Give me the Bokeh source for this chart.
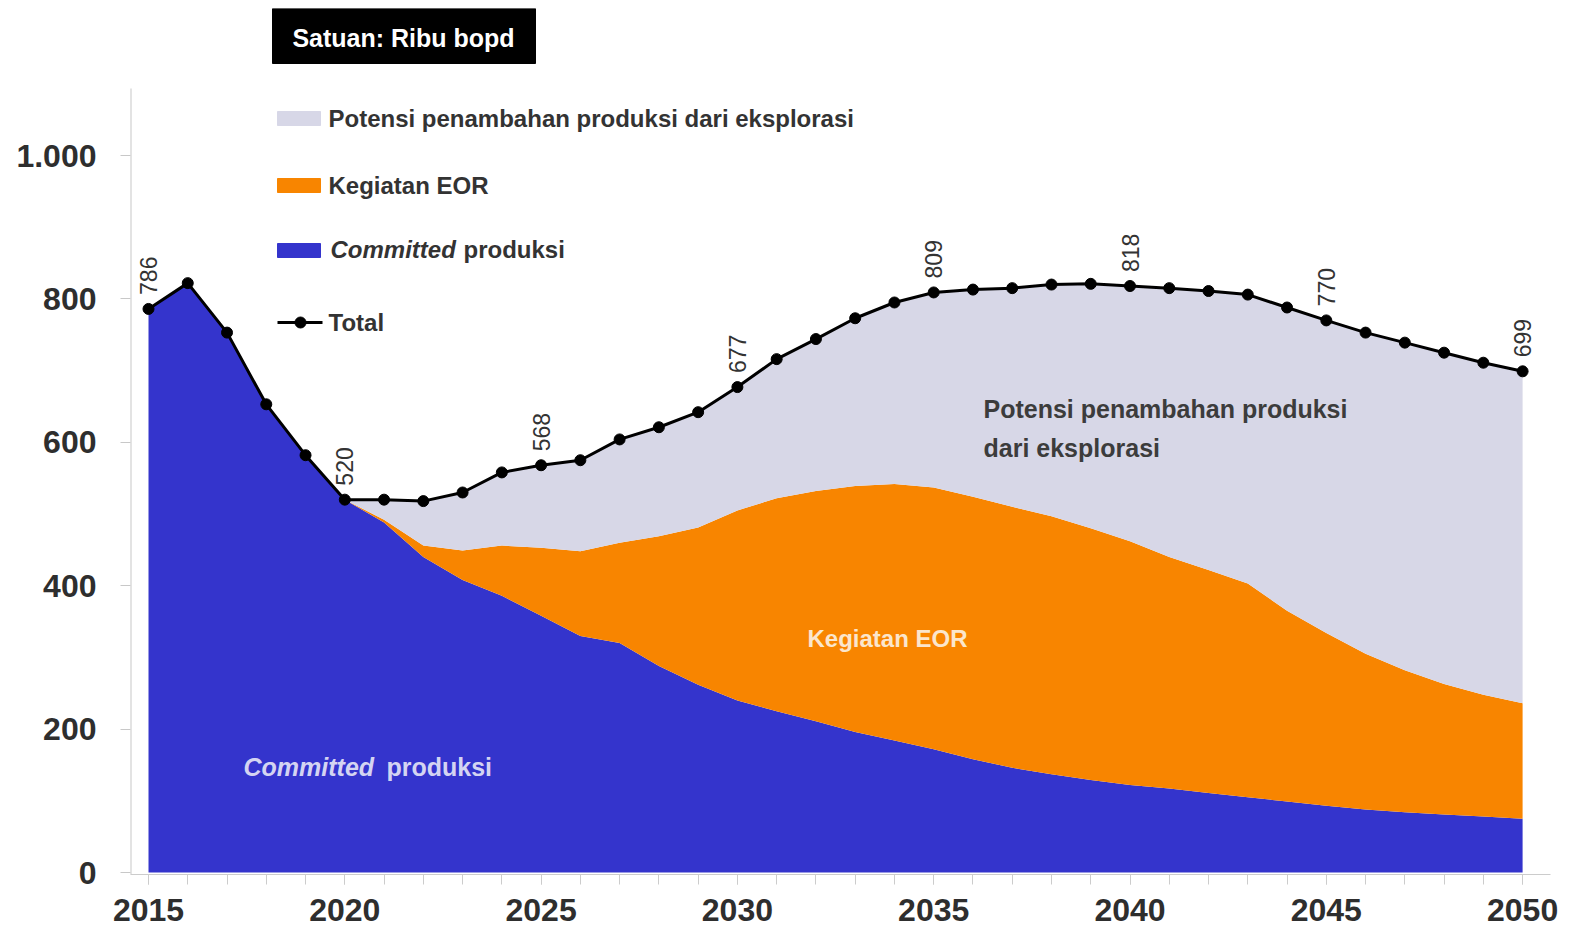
import math
from bokeh.plotting import figure
from bokeh.models import ColumnDataSource, FixedTicker, Range1d, SingleIntervalTicker
from bokeh.core.properties import value
from bokeh.embed import file_html
from bokeh.resources import INLINE

# ---------------- data (thousand bopd) ----------------
years = list(range(2015, 2051))
committed = [786, 822, 753, 653, 582, 520, 488, 440, 408, 386, 358, 330, 320, 288, 262, 240,
             225, 211, 196, 184, 172, 158, 146, 137, 129, 122, 117, 111, 105, 99, 93, 88, 84, 81, 78, 75]
eor = [0, 0, 0, 0, 0, 0, 4, 16, 41, 70, 95, 118, 140, 181, 219, 265,
       297, 321, 343, 358, 365, 366, 364, 360, 351, 340, 323, 311, 298, 266, 241, 217, 198, 182, 170, 161]
exploration = [0, 0, 0, 0, 0, 0, 28, 62, 81, 102, 115, 127, 144, 152, 161, 172,
               194, 212, 234, 253, 272, 289, 305, 323, 341, 356, 375, 389, 403, 423, 436, 448, 457, 462, 463, 463]
total = [786, 822, 753, 653, 582, 520, 520, 518, 530, 558, 568, 575, 604, 621, 642, 677,
         716, 744, 773, 795, 809, 813, 815, 820, 821, 818, 815, 811, 806, 788, 770, 753, 739, 725, 711, 699]
label_years = [2015, 2020, 2025, 2030, 2035, 2040, 2045, 2050]
label_values = [786, 520, 568, 677, 809, 818, 770, 699]
y_ticks = [0, 200, 400, 600, 800, 1000]
y_tick_labels = ["0", "200", "400", "600", "800", "1.000"]
series_names = ["Potensi penambahan produksi dari eksplorasi", "Kegiatan EOR", "Committed produksi"]
unit_text = "Satuan: Ribu bopd"

C_BLUE = "#3434cc"
C_ORANGE = "#f88500"
C_GREY = "#d7d7e7"
FONT = value("Liberation Sans")

# ---------------- layout helpers (page pixels -> data) ----------------
PX_2015, PX_PER_YEAR = 148.0, 39.26
PY_ZERO, PX_PER_UNIT = 872.0, 0.717
F_LEFT, F_RIGHT, F_TOP, F_BOTTOM = 130.0, 1550.0, 8.0, 874.0
W, H = 1562, 935


def X(px):
    return 2015 + (px - PX_2015) / PX_PER_YEAR


def Y(py):
    return (PY_ZERO - py) / PX_PER_UNIT


x_start, x_end = X(F_LEFT), X(F_RIGHT)
y_start, y_end = Y(F_BOTTOM), Y(F_TOP)

p = figure(width=W, height=H, x_range=Range1d(x_start, x_end), y_range=Range1d(y_start, y_end),
           output_backend="svg", toolbar_location=None,
           min_border_left=int(F_LEFT), min_border_right=int(W - F_RIGHT),
           min_border_top=int(F_TOP), min_border_bottom=int(H - F_BOTTOM))
p.outline_line_color = None
p.xgrid.grid_line_color = None
p.ygrid.grid_line_color = None
p.background_fill_color = "white"

src = ColumnDataSource(dict(year=years, committed=committed, eor=eor, exploration=exploration, total=total))
p.varea_stack(stackers=["committed", "eor", "exploration"], x="year",
              color=[C_BLUE, C_ORANGE, C_GREY], source=src)
p.line("year", "total", source=src, line_color="black", line_width=3)
p.scatter("year", "total", source=src, size=11, color="black")

# rotated value labels
p.text(x=label_years, y=label_values, text=[str(v) for v in label_values], angle=math.pi / 2,
       text_align="left", text_baseline="middle", y_offset=-14,
       text_font=FONT, text_font_size="23px", text_color="#333333")

# axes
xa = p.xaxis[0]
xa.ticker = SingleIntervalTicker(interval=5, num_minor_ticks=5)
xa.axis_line_color = "#cccccc"
xa.major_tick_line_color = "#cccccc"
xa.minor_tick_line_color = "#cccccc"
xa.major_tick_out = 10
xa.major_tick_in = 0
xa.minor_tick_out = 10
xa.minor_tick_in = 0
xa.major_label_standoff = 14
xa.major_label_text_font = "Liberation Sans"
xa.major_label_text_font_style = "bold"
xa.major_label_text_font_size = "32px"
xa.major_label_text_color = "#2e2e2e"

ya = p.yaxis[0]
ya.ticker = FixedTicker(ticks=y_ticks)
ya.major_label_overrides = {t: l for t, l in zip(y_ticks, y_tick_labels)}
ya.axis_line_color = None
ya.major_tick_line_color = "#c8c8c8"
ya.major_tick_out = 10
ya.major_tick_in = 0
ya.minor_tick_line_color = None
ya.major_label_standoff = 24
ya.major_label_text_font = "Liberation Sans"
ya.major_label_text_font_style = "bold"
ya.major_label_text_font_size = "32px"
ya.major_label_text_color = "#2e2e2e"
p.segment(x0=[x_start], y0=[y_start], x1=[x_start], y1=[Y(88)], line_color="#c8c8c8", line_width=2)

# unit box
p.quad(left=[X(272)], right=[X(535)], top=[Y(8)], bottom=[Y(63)], color="black")
p.text(x=[X(403)], y=[Y(37)], text=[unit_text], text_align="center", text_baseline="middle",
       text_font=FONT, text_font_style="bold", text_font_size="25px", text_color="white")

# legend (manual, to allow italic "Committed")
sw_l, sw_r = X(277), X(320)
p.quad(left=[sw_l] * 3, right=[sw_r] * 3,
       top=[Y(111), Y(178), Y(243)], bottom=[Y(125), Y(192), Y(257)],
       color=[C_GREY, C_ORANGE, C_BLUE])
p.text(x=[X(328), X(328)], y=[Y(118), Y(185)], text=series_names[:2],
       text_align="left", text_baseline="middle", text_font=FONT, text_font_style="bold",
       text_font_size="24px", text_color="#333333")
p.text(x=[X(330)], y=[Y(249)], text=["Committed"], text_align="left", text_baseline="middle",
       text_font=FONT, text_font_style="bold italic", text_font_size="24px", text_color="#333333")
p.text(x=[X(463)], y=[Y(249)], text=["produksi"], text_align="left", text_baseline="middle",
       text_font=FONT, text_font_style="bold", text_font_size="24px", text_color="#333333")
p.line(x=[X(277), X(322)], y=[Y(322), Y(322)], line_color="black", line_width=3)
p.scatter(x=[X(300)], y=[Y(322)], size=11, color="black")
p.text(x=[X(328)], y=[Y(322)], text=["Total"], text_align="left", text_baseline="middle",
       text_font=FONT, text_font_style="bold", text_font_size="24px", text_color="#333333")

# in-area labels
p.text(x=[X(983), X(983)], y=[Y(408), Y(447)],
       text=["Potensi penambahan produksi", "dari eksplorasi"],
       text_align="left", text_baseline="middle", text_font=FONT, text_font_style="bold",
       text_font_size="25px", text_color="#3c3c3c")
p.text(x=[X(807)], y=[Y(638)], text=["Kegiatan EOR"], text_align="left", text_baseline="middle",
       text_font=FONT, text_font_style="bold", text_font_size="24px", text_color="#fbe6cc")
p.text(x=[X(243)], y=[Y(766)], text=["Committed"], text_align="left", text_baseline="middle",
       text_font=FONT, text_font_style="bold italic", text_font_size="25px", text_color="#d4d4f2")
p.text(x=[X(386)], y=[Y(766)], text=["produksi"], text_align="left", text_baseline="middle",
       text_font=FONT, text_font_style="bold", text_font_size="25px", text_color="#d4d4f2")

open("out.html", "w").write(file_html(p, INLINE))
